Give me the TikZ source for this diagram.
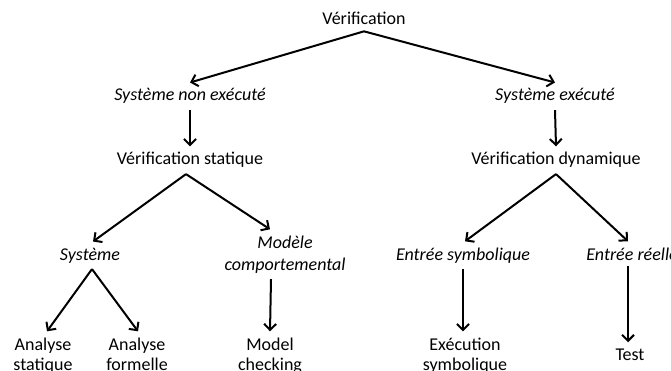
\documentclass[tikz,border=0pt]{standalone}
\usepackage{fontspec}
\setmainfont{Carlito}
\usetikzlibrary{arrows.meta}
\begin{document}
\begin{tikzpicture}[x=1pt,y=-1pt,
  lbl/.style={anchor=base,inner sep=6pt,align=center,font=\fontsize{18}{20}\selectfont},
  cat/.style={lbl,font=\fontsize{18}{22}\selectfont\itshape},
  arr/.style={line width=2pt,-{Straight Barb[length=6pt,width=12pt,line width=2pt]}}]
\useasboundingbox (0,0) rectangle (671,371);
% top level
\node[lbl] (ver) at (364,25) {Vérification};
\node[cat] (sne) at (190,101) {Système non exécuté};
\node[cat] (se)  at (555,101) {Système exécuté};
\node[lbl] (vs)  at (190,165) {Vérification statique};
\node[lbl] (vd)  at (556,165) {Vérification dynamique};
% static branch (base anchor of a two-line label is its last line)
\node[cat] (sys) at (90,260) {Système};
\node[cat] (mod) at (285,270) {Modèle\\comportemental};
\node[lbl] (as)  at (43,370) {Analyse\\statique};
\node[lbl] (af)  at (137,370) {Analyse\\formelle};
\node[lbl] (mc)  at (270,370) {Model\\checking};
% dynamic branch
\node[cat] (es)  at (463,260) {Entrée symbolique};
\node[cat] (er)  at (632,260) {Entrée réelle};
\node[lbl] (ex)  at (465,370) {Exécution\\symbolique};
\node[lbl] (test) at (630,360) {Test};
% connectors
\draw[arr] (ver.south) -- (sne.north);
\draw[arr] (ver.south) -- (se.north);
\draw[arr] (sne.south) -- (vs.north);
\draw[arr] (se.south) -- (vd.north);
\draw[arr] ([xshift=-4pt]vs.south) -- ([xshift=3pt]sys.north);
\draw[arr] ([xshift=-4pt]vs.south) -- ([xshift=-15pt]mod.north);
\draw[arr] ([xshift=2pt]sys.south) -- ([xshift=4pt]as.north);
\draw[arr] ([xshift=2pt]sys.south) -- ([xshift=1pt]af.north);
\draw[arr] ([xshift=-14pt]mod.south) -- (mc.north);
\draw[arr] (vd.south) -- ([xshift=2pt]es.north);
\draw[arr] (vd.south) -- ([xshift=-4pt]er.north);
\draw[arr] (es.south) -- ([xshift=-2pt]ex.north);
\draw[arr] ([xshift=-4pt]er.south) -- ([xshift=-2pt]test.north);
\end{tikzpicture}
\end{document}
